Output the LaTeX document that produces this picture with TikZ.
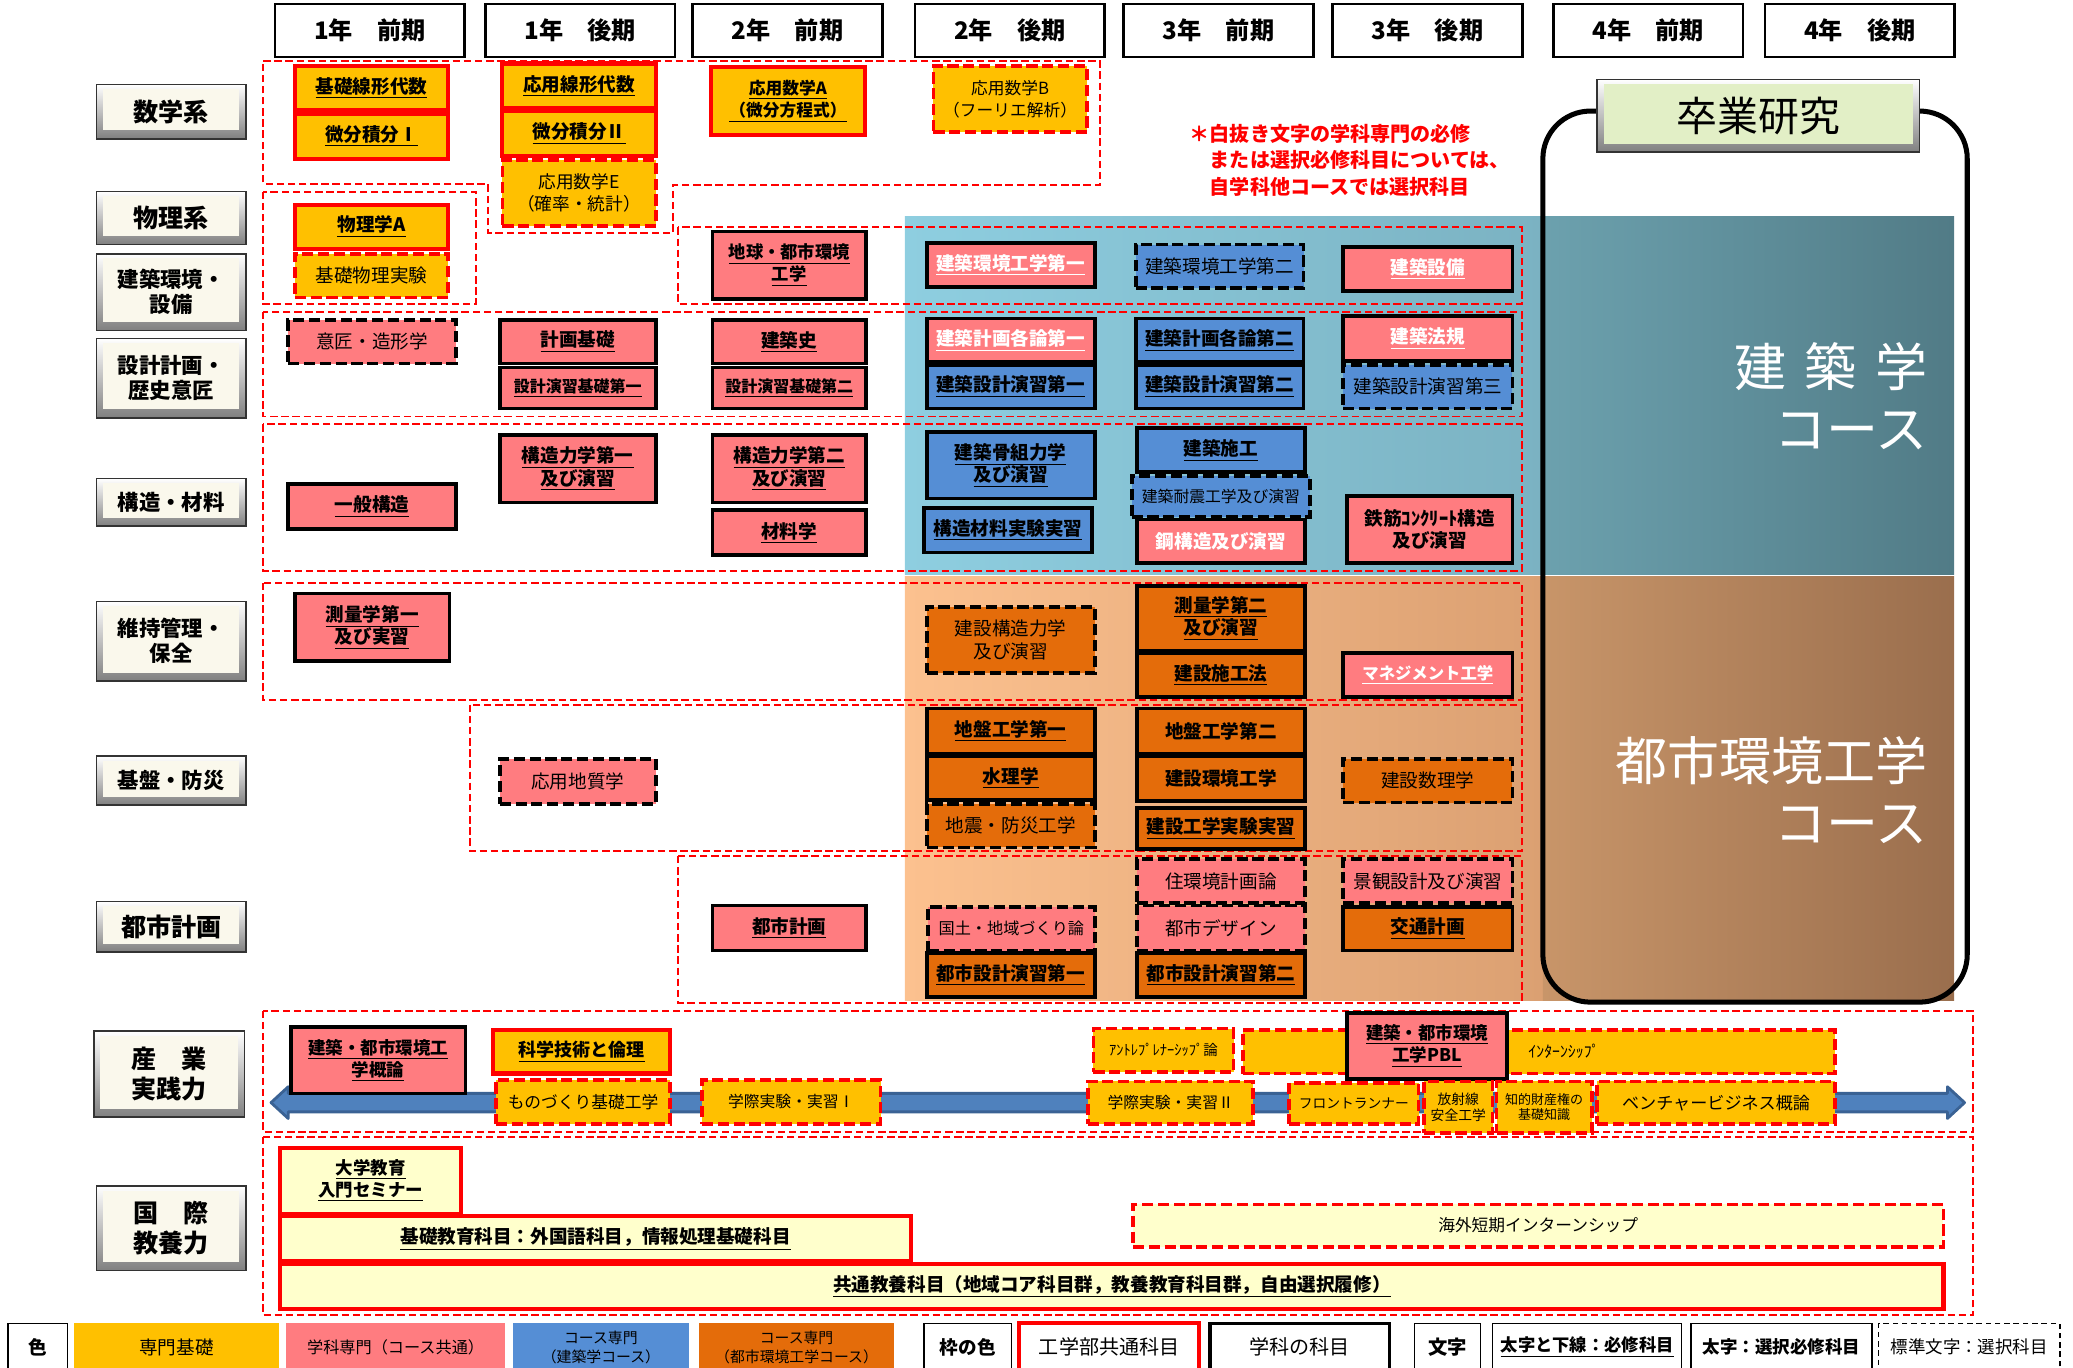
\documentclass[tikz,border=0pt]{standalone}
\usepackage{fontspec}
\setmainfont{Noto Sans CJK JP}
\definecolor{senki}{HTML}{FFC000}
\definecolor{gakka}{HTML}{FF7C80}
\definecolor{kenchiku}{HTML}{558ED5}
\definecolor{toshi}{HTML}{E46C0A}
\definecolor{kyoyo}{HTML}{FFFFCC}
\definecolor{labelcream}{HTML}{FAF8EC}
\definecolor{labelgreen}{HTML}{E2EFC6}
\definecolor{arrowblue}{HTML}{4F81BD}
\definecolor{arrowedge}{HTML}{3A6294}
\definecolor{blueA}{HTML}{8ECEE0}
\definecolor{blueB}{HTML}{7BB2C2}
\definecolor{blueC}{HTML}{6CA1AE}
\definecolor{blueD}{HTML}{517B86}
\definecolor{peachA}{HTML}{FCC18F}
\definecolor{peachB}{HTML}{DBA072}
\definecolor{peachC}{HTML}{C89569}
\definecolor{peachD}{HTML}{9A6E4D}
\makeatletter
\newcommand{\js}{\rule[-0.08\dimexpr\f@size pt\relax]{0pt}{0.92\dimexpr\f@size pt\relax}}
\makeatother
\newcommand{\hissu}[1]{\js{\bfseries\underline{\js#1}}}
\newcommand{\sentaku}[1]{\js{\bfseries #1}}

\begin{document}
\begin{tikzpicture}[x=0.25mm,y=-0.25mm,font=\fontsize{10}{12}\selectfont,
    every node/.style={execute at begin node=\js,execute at end node=\js},
    cor/.style args={#1/#2/#3/#4}{minimum width={(#3-#1)*0.25mm},minimum height={(#4-#2)*0.25mm},at={({(#1+#3)/2},{(#2+#4)/2})}},
    kamoku/.style={inner sep=0pt,align=center},
    yel/.style={kamoku,fill=senki}, pnk/.style={kamoku,fill=gakka}, blu/.style={kamoku,fill=kenchiku},
    org/.style={kamoku,fill=toshi}, cre/.style={kamoku,fill=kyoyo},
    kreq/.style={draw=red,line width=2.2pt}, kopt/.style={draw=red,line width=2pt,dash pattern=on 6pt off 2.5pt},
    greq/.style={draw=black,line width=2pt}, gopt/.style={draw=black,line width=2pt,dash pattern=on 6pt off 2.5pt},
    grp/.style={draw=red,line width=1pt,dash pattern=on 4pt off 2pt},
    head/.style={draw=black,line width=1.4pt,fill=white,inner sep=0pt,font=\fontsize{13}{15}\selectfont\bfseries},
    bevel/.style={draw=black!80,line width=0.8pt,top color=white,bottom color=black!50,inner sep=0pt,align=center,
        path picture={\fill[#1] ([shift={(3.5pt,-2.5pt)}]path picture bounding box.north west) rectangle ([shift={(-3.5pt,4.5pt)}]path picture bounding box.south east);}},
    lbl/.style={bevel=labelcream,font=\fontsize{13.5}{16}\selectfont\bfseries},
    lbltwo/.style={bevel=labelcream,font=\fontsize{11.5}{13.5}\selectfont\bfseries},
    legend/.style={inner sep=0pt,align=center,draw=black,line width=0.8pt,fill=white},
    fs/.style={font=\fontsize{#1}{12}\selectfont}]
    \useasboundingbox (0,0) rectangle (1568,1034);
    % Course panels
    \shade[left color=blueA,right color=blueB] (684.5,164) rectangle (1167,434.5);
    \shade[left color=blueC,right color=blueD] (1167,164) rectangle (1478,434.5);
    \shade[left color=peachA,right color=peachB] (684.5,436.3) rectangle (1167,757);
    \shade[left color=peachC,right color=peachD] (1167,436.3) rectangle (1478,757);
    \node[anchor=east,align=right,text=white,font=\fontsize{28}{33.3}\selectfont] (kenchikucourse) at (1463,301) {\js{}建\hspace{10pt}築\hspace{10pt}学\\\js{}コース};
    \node[anchor=east,align=right,text=white,font=\fontsize{28}{33.3}\selectfont] (toshicourse) at (1463,598.5) {\js{}都市環境工学\\\js{}コース};
    % Graduation research
    \draw[line width=2.7pt,rounded corners=9mm] (1167,84) rectangle (1488,758);
    \node[bevel=labelgreen,font=\fontsize{22}{24}\selectfont,cor=1208/60/1452/115] (sotsuken) {卒業研究};
    \node[anchor=west,align=left,text=red,font=\fontsize{10.8}{14.2}\selectfont\bfseries] (chui) at (895,121) {\js{}＊白抜き文字の学科専門の必修\\\js{}\hphantom{＊}または選択必修科目については、\\\js{}\hphantom{＊}自学科他コースでは選択科目};
    % Headers
    \foreach \x/\t [count=\i] in {208/1年　前期,367/1年　後期,524/2年　前期,692/2年　後期,850/3年　前期,1008/3年　後期,1175/4年　前期,1335/4年　後期}{ \node[head,cor=\x/3/\x+143.5/43] (term\i) {\t}; }
    % Row labels
    \node[lbl,cor=73/64/186/105] (sugaku) {数学系};
    \node[lbl,cor=73/145/186/185] (butsuri) {物理系};
    \node[lbltwo,cor=73/192/186/250] (kankyo) {\js{}建築環境・\\\js{}設備};
    \node[lbltwo,cor=73/256/186/316] (sekkei) {\js{}設計計画・\\\js{}歴史意匠};
    \node[lbltwo,cor=73/362/186/398] (kozo) {構造・材料};
    \node[lbltwo,cor=73/455/186/515] (iji) {\js{}維持管理・\\\js{}保全};
    \node[lbltwo,cor=73/572/186/609] (bosai) {基盤・防災};
    \node[lbl,cor=73/682/186/720] (toshi) {都市計画};
    \node[lbl,cor=71/780/185/845] (sangyo) {\js{}産　業\\\js{}実践力};
    \node[lbl,cor=73/897/186/961] (kokusai) {\js{}国　際\\\js{}教養力};
    % Group frames
    \draw[grp] (199,46) -- (832,46) -- (832,140) -- (509,140) -- (509,176) -- (369,176) -- (369,139) -- (199,139) -- cycle;
    \draw[grp] (199,145) rectangle (360,230);
    \draw[grp] (513,172) rectangle (1151,230);
    \draw[grp] (199,236) rectangle (1151,315);
    \draw[grp] (199,321) rectangle (1151,432);
    \draw[grp] (199,441) rectangle (1151,529.5);
    \draw[grp] (355.6,533) rectangle (1151,644);
    \draw[grp] (513,647.5) rectangle (1151,758.6);
    \draw[grp] (199,764.5) rectangle (1492.6,856);
    \draw[grp] (199,860) rectangle (1492.6,994.6);
    % Math
    \node[yel,kreq,cor=223/50/339/83] (kisosenkei) {\hissu{基礎線形代数}};
    \node[yel,kreq,cor=223/86/339/120] (bibun1) {\hissu{微分積分Ⅰ}};
    \node[yel,kreq,cor=380/48/496/82] (oyosenkei) {\hissu{応用線形代数}};
    \node[yel,kreq,cor=380/84/496/118] (bibun2) {\hissu{微分積分Ⅱ}};
    \node[yel,kopt,fs=9.5,cor=380/121/496/171] (oyoE) {\js{}応用数学E\\\js{}（確率・統計）};
    \node[yel,kreq,fs=9,cor=538/51/654/102] (oyoA) {\hissu{応用数学A}\\\hissu{（微分方程式）}};
    \node[yel,kopt,fs=9,cor=706/50/822/100] (oyoB) {\js{}応用数学B\\\js{}（フーリエ解析）};
    % Physics
    \node[yel,kreq,cor=223/155/339/188] (butsuriA) {\hissu{物理学A}};
    \node[yel,kopt,cor=223/192/339/225] (kisobutsuri) {基礎物理実験};
    % Environment
    \node[pnk,greq,fs=9.3,cor=539/175/655/226] (chikyu) {\hissu{地球・都市環境}\\\hissu{工学}};
    \node[pnk,greq,text=white,cor=701/184/828/217] (kankyo1) {\hissu{建築環境工学第一}};
    \node[blu,gopt,cor=859/185/986/218] (kankyo2) {建築環境工学第二};
    \node[pnk,greq,text=white,cor=1016/187/1144/220] (setsubi) {\hissu{建築設備}};
    % Design
    \node[pnk,gopt,cor=218/242/345/275] (isho) {意匠・造形学};
    \node[pnk,greq,cor=378/242/496/275] (keikakukiso) {\hissu{計画基礎}};
    \node[pnk,greq,fs=8.6,cor=378/278/496/309] (enshu1) {\hissu{設計演習基礎第一}};
    \node[pnk,greq,cor=539/242/655/275] (kenchikushi) {\hissu{建築史}};
    \node[pnk,greq,fs=8.6,cor=539/278/655/309] (enshu2) {\hissu{設計演習基礎第二}};
    \node[pnk,greq,text=white,cor=701/241/828/274] (kakuron1) {\hissu{建築計画各論第一}};
    \node[blu,greq,cor=701/276/828/309] (ksekkei1) {\hissu{建築設計演習第一}};
    \node[blu,greq,cor=859/241/986/274] (kakuron2) {\hissu{建築計画各論第二}};
    \node[blu,greq,cor=859/276/986/309] (ksekkei2) {\hissu{建築設計演習第二}};
    \node[pnk,greq,text=white,cor=1016/239/1144/273] (hoki) {\hissu{建築法規}};
    \node[blu,gopt,cor=1016/276/1144/309] (ksekkei3) {建築設計演習第三};
    % Structure
    \node[pnk,greq,cor=218/366/345/400] (ippan) {\hissu{一般構造}};
    \node[pnk,greq,cor=378/329/496/380] (rikigaku1) {\hissu{構造力学第一}\\\hissu{及び演習}};
    \node[pnk,greq,cor=539/329/655/380] (rikigaku2) {\hissu{構造力学第二}\\\hissu{及び演習}};
    \node[pnk,greq,cor=539/386/655/420] (zairyo) {\hissu{材料学}};
    \node[blu,greq,cor=701/327/828/377] (honegumi) {\hissu{建築骨組力学}\\\hissu{及び演習}};
    \node[blu,greq,cor=699/384/826/418] (zjikken) {\hissu{構造材料実験実習}};
    \node[blu,greq,cor=860/324/987/357] (seko) {\hissu{建築施工}};
    \node[blu,gopt,fs=8.5,cor=856/360/991/391] (taishin) {建築耐震工学及び演習};
    \node[pnk,greq,text=white,cor=860/393/987/426] (kokozo) {\sentaku{鋼構造及び演習}};
    \node[pnk,greq,cor=1019/375/1144/426] (rc) {\sentaku{鉄筋ｺﾝｸﾘｰﾄ構造}\\\sentaku{及び演習}};
    % Maintenance
    \node[pnk,greq,cor=223/449/340/500] (sokuryo1) {\hissu{測量学第一}\\\hissu{及び実習}};
    \node[org,gopt,cor=701/459/828/509] (kskozo) {\js{}建設構造力学\\\js{}及び演習};
    \node[org,greq,cor=860/443/987/492] (sokuryo2) {\hissu{測量学第二}\\\hissu{及び演習}};
    \node[org,greq,cor=860/494/987/527] (sekoho) {\hissu{建設施工法}};
    \node[pnk,greq,text=white,fs=8.8,cor=1016/494/1144/527] (management) {\hissu{マネジメント工学}};
    % Ground
    \node[pnk,gopt,cor=378/574/496/608] (chishitsu) {応用地質学};
    \node[org,greq,cor=701/536/828/570] (jiban1) {\hissu{地盤工学第一}};
    \node[org,greq,cor=701/572/828/605] (suiri) {\hissu{水理学}};
    \node[org,gopt,cor=701/608/828/641] (jishin) {地震・防災工学};
    \node[org,greq,cor=860/536/987/570] (jiban2) {\sentaku{地盤工学第二}};
    \node[org,greq,cor=860/572/987/606] (kskankyo) {\sentaku{建設環境工学}};
    \node[org,greq,cor=860/611/987/642] (ksjikken) {\hissu{建設工学実験実習}};
    \node[org,gopt,cor=1016/574/1144/607] (suri) {建設数理学};
    % City planning
    \node[pnk,greq,cor=539/685/655/719] (toshikeikaku) {\hissu{都市計画}};
    \node[pnk,gopt,fs=8.7,cor=702/686/828/719] (kokudo) {国土・地域づくり論};
    \node[org,greq,cor=701/721/828/754] (tsekkei1) {\hissu{都市設計演習第一}};
    \node[pnk,gopt,cor=860/650/987/683] (jukankyo) {住環境計画論};
    \node[pnk,gopt,cor=860/685/987/719] (design) {都市デザイン};
    \node[org,greq,cor=860/721/987/754] (tsekkei2) {\hissu{都市設計演習第二}};
    \node[pnk,gopt,cor=1016/650/1144/683] (keikan) {景観設計及び演習};
    \node[org,greq,cor=1016/686/1144/719] (kotsu) {\hissu{交通計画}};
    % Practice
    \fill[arrowblue,draw=arrowedge,line width=1.5pt,line join=round] (205,834) -- (218,822) -- (218,827) -- (1473,827) -- (1473,822) -- (1486,834) -- (1473,846) -- (1473,841) -- (218,841) -- (218,846) -- cycle;
    \node[pnk,greq,fs=9.4,cor=220/777/352/827] (gairon) {\hissu{建築・都市環境工}\\\hissu{学概論}};
    \node[yel,kreq,fs=9.7,cor=373/779/507/812] (rinri) {\hissu{科学技術と倫理}};
    \node[yel,kopt,fs=9,cor=375/817/507/850] (monozukuri) {ものづくり基礎工学};
    \node[yel,kopt,fs=8.5,cor=531/817/666/850] (gakusai1) {学際実験・実習Ⅰ};
    \node[yel,kopt,fs=7.8,cor=827/778/933/811] (entre) {ｱﾝﾄﾚﾌﾟﾚﾅｰｼｯﾌﾟ論};
    \node[yel,kopt,cor=940/779/1388/812] (intern) {};
    \node[fs=8.5] (interntext) at (1183,795) {ｲﾝﾀｰﾝｼｯﾌﾟ};
    \node[pnk,greq,fs=9.4,cor=1019/766/1140/816] (pbl) {\hissu{建築・都市環境}\\\hissu{工学PBL}};
    \node[yel,kopt,fs=8.5,cor=823/818/948/850] (gakusai2) {学際実験・実習Ⅱ};
    \node[yel,kopt,fs=7.4,cor=975/819/1073/850] (frontrunner) {フロントランナー};
    \node[yel,kopt,font=\fontsize{7.4}{8.4}\selectfont,cor=1077/818/1129/857] (hoshasen) {\js{}放射線\\\js{}安全工学};
    \node[yel,kopt,font=\fontsize{7}{8.4}\selectfont,cor=1132/818/1204/857] (chiteki) {\js{}知的財産権の\\\js{}基礎知識};
    \node[yel,kopt,fs=9.2,cor=1208/818/1388/850] (venture) {ベンチャービジネス概論};
    % Liberal arts
    \node[cre,kreq,fs=9.4,cor=212/868/349/918] (seminar) {\hissu{大学教育}\\\hissu{入門セミナー}};
    \node[cre,kreq,cor=212/920/689/954] (kisokyoiku) {\hissu{基礎教育科目：外国語科目，情報処理基礎科目}};
    \node[cre,kopt,fs=9,cor=857/911/1470/943] (kaigai) {海外短期インターンシップ};
    \node[cre,kreq,cor=212/956/1470/990] (kyotsu) {\hissu{共通教養科目（地域コア科目群，教養教育科目群，自由選択履修）}};
    % Legend
    \node[legend,font=\fontsize{10}{12}\selectfont\bfseries,cor=6/1001/51/1037] (iro) {色};
    \node[kamoku,fill=senki,cor=56/1001/211/1037] (legsenki) {専門基礎};
    \node[kamoku,fill=gakka,fs=8.7,cor=216.5/1001/382/1037] (leggakka) {学科専門（コース共通）};
    \node[kamoku,fill=kenchiku,font=\fontsize{8}{10}\selectfont,cor=388/1001/521/1037] (legkenchiku) {\js{}コース専門\\\js{}（建築学コース）};
    \node[kamoku,fill=toshi,font=\fontsize{8}{10}\selectfont,cor=529/1001/676/1037] (legtoshi) {\js{}コース専門\\\js{}（都市環境工学コース）};
    \node[legend,font=\fontsize{10}{12}\selectfont\bfseries,cor=699/1001/765/1037] (waku) {枠の色};
    \node[legend,kreq,fs=10.8,cor=771/1001/907/1037] (legkogaku) {工学部共通科目};
    \node[legend,greq,fs=10.8,cor=915/1001/1051/1037] (leggakkakamoku) {学科の科目};
    \node[legend,font=\fontsize{10.4}{12}\selectfont\bfseries,cor=1070/1001/1120/1037] (moji) {文字};
    \node[legend,fs=9.3,cor=1129/1001/1272/1037] (leghissu) {\hissu{太字と下線：必修科目}};
    \node[legend,fs=9.4,cor=1279/1001/1416/1037] (legsentaku) {\sentaku{太字：選択必修科目}};
    \node[legend,fs=9.4,dash pattern=on 3pt off 2pt,cor=1421/1001/1558/1037] (legsentakukamoku) {標準文字：選択科目};
\end{tikzpicture}
\end{document}
